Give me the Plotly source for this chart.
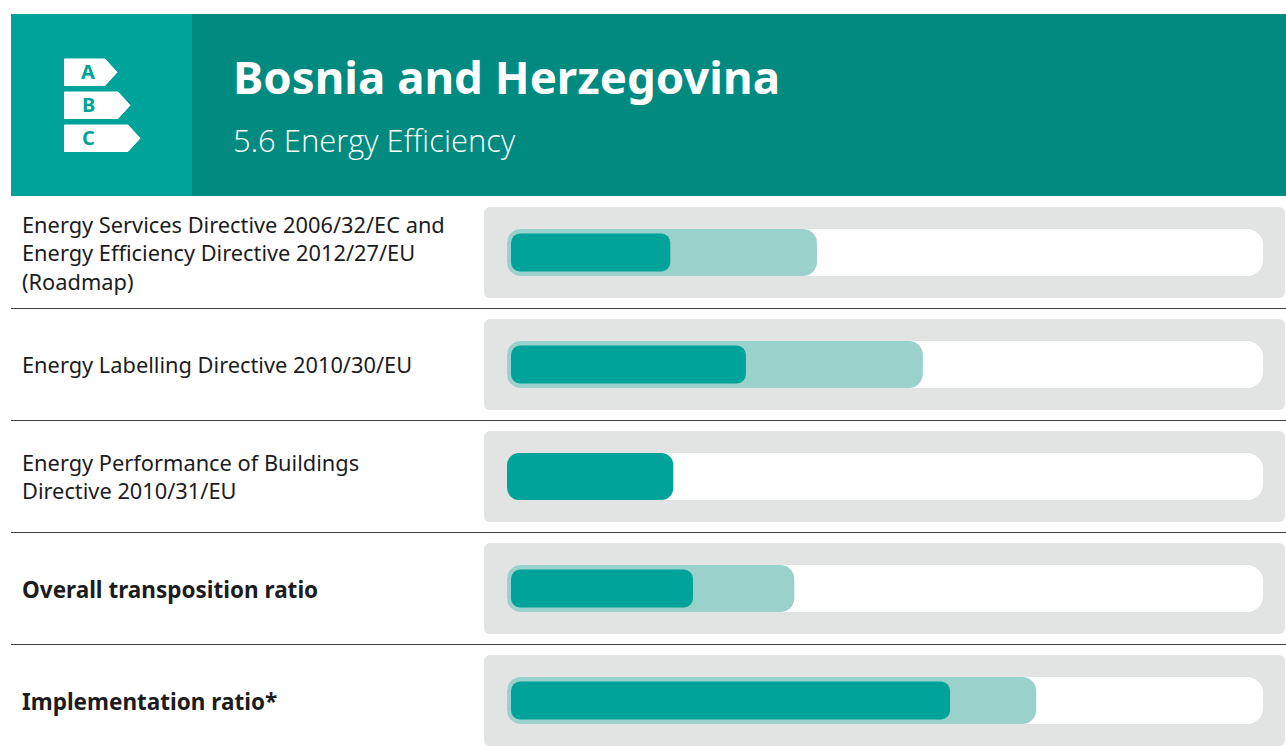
import plotly.graph_objects as go

W, H = 1286, 747

title = "Bosnia and Herzegovina"
subtitle = "5.6 Energy Efficiency"
categories = [
    "Energy Services Directive 2006/32/EC and<br>Energy Efficiency Directive 2012/27/EU<br>(Roadmap)",
    "Energy Labelling Directive 2010/30/EU",
    "Energy Performance of Buildings<br>Directive 2010/31/EU",
    "Overall transposition ratio",
    "Implementation ratio*",
]
bold_rows = [False, False, False, True, True]
outer_values = [41.0, 55.0, None, 38.0, 70.0]
inner_values = [21.6, 31.6, None, 24.6, 58.6]
solid_values = [None, None, 22.0, None, None]
icon_letters = ["A", "B", "C"]

FONT = "Noto Sans"
TEAL = "#00A39A"
DARK = "#008A80"
LIGHT = "#9AD1CB"
GREY = "#E2E4E3"
TEXT = "#1c1c1c"

PX = 7.56            # pixels per percent
X0 = 507             # pixel of 0 %
ROW = 112            # pixels per row
Y0 = 252.5           # pixel centre of first row
xr = [-X0 / PX, (W - X0) / PX]
yr = [4 + (H - (Y0 + 4 * ROW)) / ROW, -Y0 / ROW]
ys = list(range(len(categories)))
INSET = 4 / PX
panel_left = (484 - X0) / PX
panel_len = (1285 - 484) / PX


def px(x):
    return x / W


def py(y):
    return 1 - y / H


fig = go.Figure()
common = dict(orientation="h", hoverinfo="skip", showlegend=False)
fig.add_bar(y=ys, x=[panel_len] * 5, base=panel_left, width=91 / ROW,
            marker=dict(color=GREY, cornerradius=6, line_width=0), **common)
fig.add_bar(y=ys, x=[100] * 5, base=0, width=47 / ROW,
            marker=dict(color="white", cornerradius=16, line_width=0), **common)
fig.add_bar(y=ys, x=outer_values, base=0, width=47 / ROW,
            marker=dict(color=LIGHT, cornerradius=14, line_width=0), **common)
fig.add_bar(y=ys, x=solid_values, base=0, width=47 / ROW,
            marker=dict(color=TEAL, cornerradius=12, line_width=0), **common)
fig.add_bar(y=ys, x=[None if v is None else v - INSET for v in inner_values],
            base=INSET, width=38 / ROW,
            marker=dict(color=TEAL, cornerradius=9, line_width=0), **common)

shapes = [
    dict(type="rect", xref="paper", yref="paper", x0=px(11), x1=px(W), y0=py(14), y1=py(196),
         fillcolor=DARK, line_width=0, layer="below"),
    dict(type="rect", xref="paper", yref="paper", x0=px(11), x1=px(192), y0=py(14), y1=py(196),
         fillcolor=TEAL, line_width=0, layer="below"),
]
for i in range(4):
    yy = py(Y0 + ROW * i + 56)
    shapes.append(dict(type="line", xref="paper", yref="paper", x0=px(11), x1=1, y0=yy, y1=yy,
                       line=dict(color="#3f3f3f", width=1)))

# energy-label icon
for top, right in zip([59, 92, 125], [117, 130, 140]):
    h = 26.5
    pts = [(64.5, top), (right - 12, top), (right, top + h / 2), (right - 12, top + h), (64.5, top + h)]
    path = "M " + " L ".join(f"{px(a):.5f},{py(b):.5f}" for a, b in pts) + " Z"
    shapes.append(dict(type="path", xref="paper", yref="paper", path=path,
                       fillcolor="white", line=dict(color="white", width=1)))

ann = [
    dict(text=f"<b>{title}</b>", x=px(231), y=py(76.5), font=dict(size=45.6, color="white", family=FONT)),
    dict(text=subtitle, x=px(231), y=py(140), font=dict(size=31, color="white", family="Open Sans Light, Noto Sans")),
]
for letter, cy in zip(icon_letters, [71.5, 104.5, 138]):
    ann.append(dict(text=f"<b>{letter}</b>", x=px(88), y=py(cy), xanchor="center",
                    font=dict(size=20, color=TEAL, family=FONT)))
for i, c in enumerate(categories):
    if bold_rows[i]:
        ann.append(dict(text=f"<b>{c}</b>", x=px(20), y=i, yref="y", align="left", yshift=-1,
                        font=dict(size=22.5, color=TEXT, family=FONT)))
    else:
        ann.append(dict(text=c, x=px(20), y=i, yref="y", align="left", yshift=0,
                        font=dict(size=21.8, color=TEXT, family=FONT)))
for a in ann:
    a.setdefault("xref", "paper")
    a.setdefault("yref", "paper")
    a.setdefault("xanchor", "left")
    a.setdefault("yanchor", "middle")
    a["showarrow"] = False

fig.update_layout(
    width=W, height=H, margin=dict(l=0, r=0, t=0, b=0),
    paper_bgcolor="white", plot_bgcolor="white",
    barmode="overlay", showlegend=False,
    xaxis=dict(range=xr, visible=False, fixedrange=True),
    yaxis=dict(range=yr, visible=False, fixedrange=True),
    shapes=shapes, annotations=ann,
)
fig.write_html("out.html", config={"displayModeBar": False},
               post_script="document.body.style.margin='0';document.body.style.overflow='hidden';")
